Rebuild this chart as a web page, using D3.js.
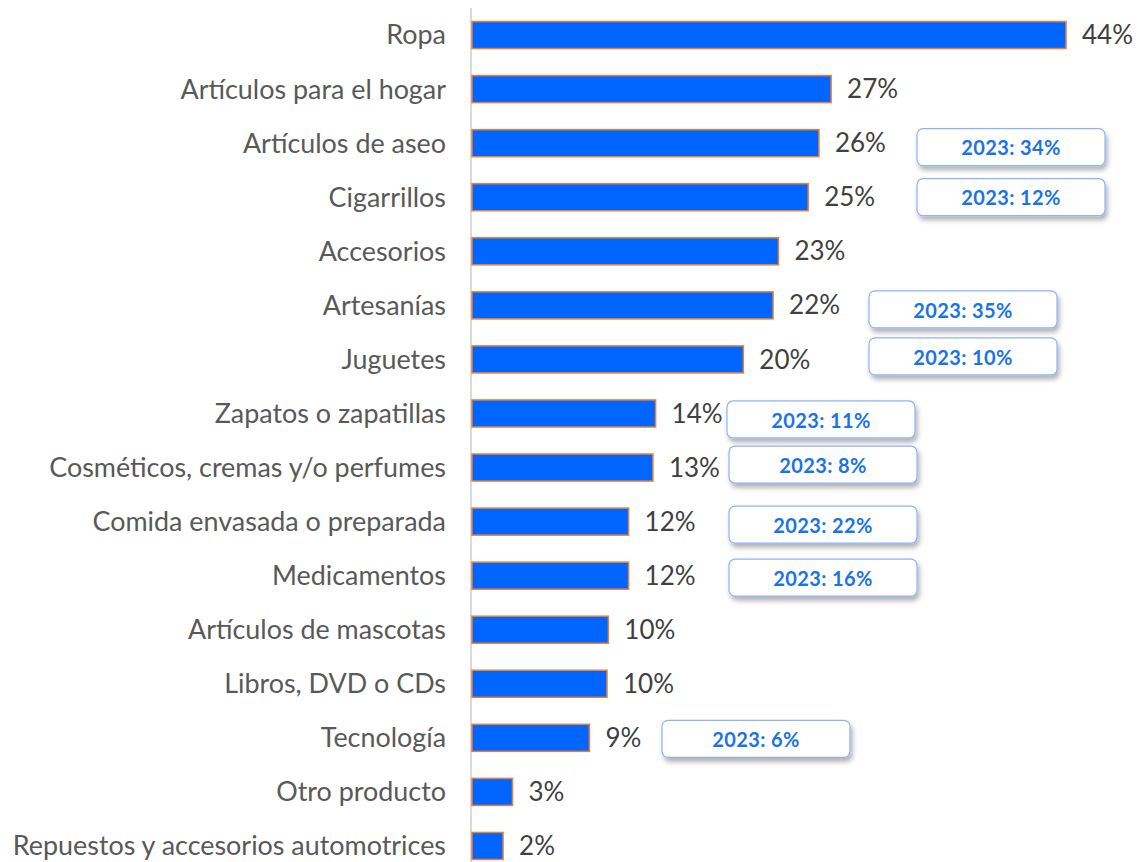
<!DOCTYPE html>
<html>
<head>
<meta charset="utf-8">
<script src="https://d3js.org/d3.v7.min.js"></script>
<style>
  body { margin: 0; background: #fff; }
  svg { display: block; }
</style>
</head>
<body>
<div id="chartContainer"></div>
<script>
// categories, top to bottom
var categories = ["Ropa", "Artículos para el hogar", "Artículos de aseo", "Cigarrillos",
  "Accesorios", "Artesanías", "Juguetes", "Zapatos o zapatillas",
  "Cosméticos, cremas y/o perfumes", "Comida envasada o preparada", "Medicamentos",
  "Artículos de mascotas", "Libros, DVD o CDs", "Tecnología", "Otro producto",
  "Repuestos y accesorios automotrices"];
// bar lengths (%)
var values = [44.0, 26.6, 25.7, 24.9, 22.7, 22.3, 20.1, 13.6, 13.4, 11.6, 11.6, 10.1, 10.0, 8.7, 3.0, 2.3];
// printed labels
var labels = ["44%", "27%", "26%", "25%", "23%", "22%", "20%", "14%", "13%", "12%", "12%", "10%", "10%", "9%", "3%", "2%"];
// 2023 comparison notes
var notes2023 = [
  {cat: "Artículos de aseo", text: "2023: 34%"},
  {cat: "Cigarrillos", text: "2023: 12%"},
  {cat: "Artesanías", text: "2023: 35%"},
  {cat: "Juguetes", text: "2023: 10%"},
  {cat: "Zapatos o zapatillas", text: "2023: 11%"},
  {cat: "Cosméticos, cremas y/o perfumes", text: "2023: 8%"},
  {cat: "Comida envasada o preparada", text: "2023: 22%"},
  {cat: "Medicamentos", text: "2023: 16%"},
  {cat: "Tecnología", text: "2023: 6%"}
];
// where each note box sits (left edge in px, vertical nudge in px)
var noteLayout = [[917, 4], [917, 0], [869, 4], [869, -3], [727, 6], [729, -3], [729, 3], [729, 2], [662, 1]];

var W = 1140, H = 862;
var plotLeft = 472, plotTop = 8;

var svg = d3.select("#chartContainer").append("svg")
  .attr("width", W).attr("height", H);

var defs = svg.append("defs");
var f = defs.append("filter").attr("id", "shadow")
  .attr("x", "-10%").attr("y", "-30%").attr("width", "130%").attr("height", "190%");
f.append("feDropShadow").attr("dx", 2).attr("dy", 4).attr("stdDeviation", 2.5)
  .attr("flood-color", "#000").attr("flood-opacity", 0.3);

var x = d3.scaleLinear().domain([0, 44]).range([plotLeft, 1066]);
var y = d3.scaleBand().domain(categories).range([plotTop, 873]).paddingInner(0.5).paddingOuter(0.25);

// axis line
svg.append("line")
  .attr("x1", plotLeft - 1).attr("x2", plotLeft - 1)
  .attr("y1", plotTop).attr("y2", H)
  .attr("stroke", "#d9d9d9").attr("stroke-width", 2);

// bars
svg.selectAll("rect.bar").data(categories).enter().append("rect")
  .attr("class", "bar")
  .attr("x", x(0))
  .attr("y", function(d) { return y(d); })
  .attr("width", function(d, i) { return x(values[i]) - x(0); })
  .attr("height", y.bandwidth())
  .attr("fill", "#0066ff")
  .attr("stroke", "#ed7d31")
  .attr("stroke-width", 1.5);

// category labels
svg.selectAll("text.cat").data(categories).enter().append("text")
  .attr("class", "cat")
  .attr("x", 446)
  .attr("y", function(d) { return y(d) + y.bandwidth() / 2; })
  .attr("dy", "0.35em")
  .attr("text-anchor", "end")
  .style("font-family", "Lato, sans-serif")
  .style("font-size", "26.9px")
  .style("fill", "#595959")
  .text(function(d) { return d; });

// value labels
svg.selectAll("text.val").data(categories).enter().append("text")
  .attr("class", "val")
  .attr("x", function(d, i) { return x(values[i]) + 16; })
  .attr("y", function(d) { return y(d) + y.bandwidth() / 2; })
  .attr("dy", "0.35em")
  .style("font-family", "Lato, sans-serif")
  .style("font-size", "26px")
  .style("fill", "#404040")
  .text(function(d, i) { return labels[i]; });

// 2023 note boxes
var boxW = 188, boxH = 37;
var notes = svg.selectAll("g.note").data(notes2023).enter().append("g")
  .attr("class", "note")
  .attr("transform", function(d, i) {
    var cy = y(d.cat) + y.bandwidth() / 2 + noteLayout[i][1];
    return "translate(" + noteLayout[i][0] + "," + (cy - boxH / 2) + ")";
  });
notes.append("rect")
  .attr("width", boxW).attr("height", boxH)
  .attr("rx", 6).attr("ry", 6)
  .attr("fill", "#fff")
  .attr("stroke", "#8ab4f8")
  .attr("stroke-width", 1.2)
  .attr("filter", "url(#shadow)");
notes.append("text")
  .attr("x", boxW / 2).attr("y", boxH / 2 + 1)
  .attr("dy", "0.36em")
  .attr("text-anchor", "middle")
  .style("font-family", "Lato, sans-serif")
  .style("font-weight", "bold")
  .style("font-size", "20px")
  .style("letter-spacing", "0.4px")
  .style("fill", "#1a73e8")
  .text(function(d) { return d.text; });
</script>
</body>
</html>
